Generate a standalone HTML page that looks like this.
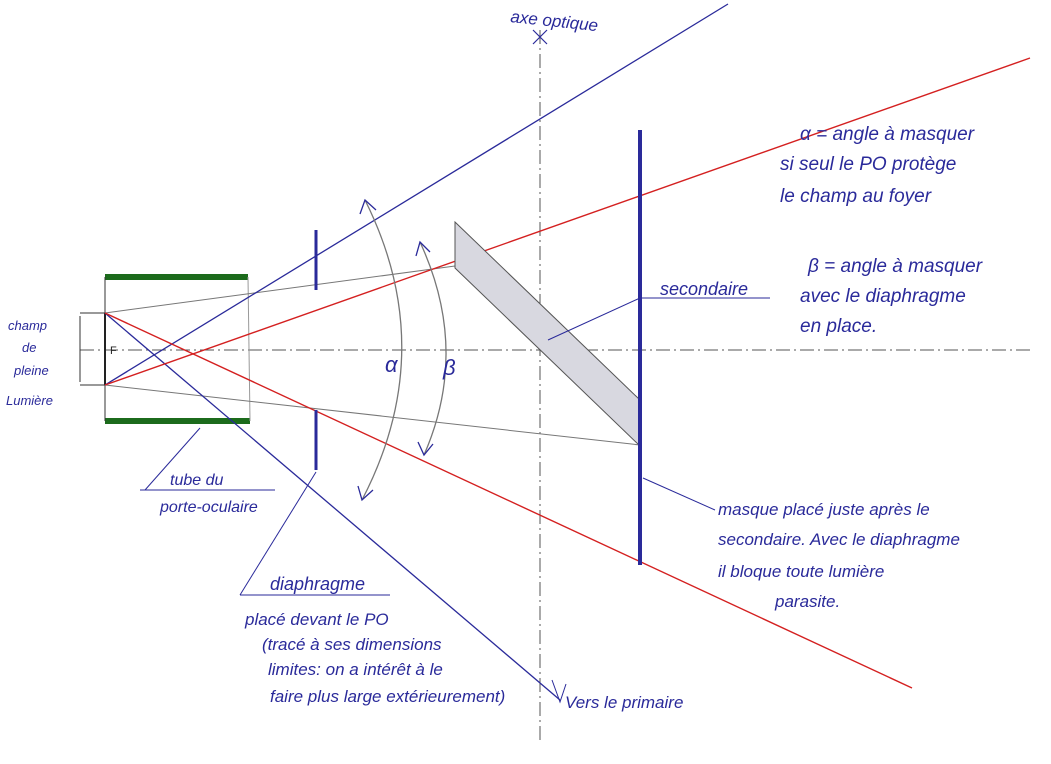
<!DOCTYPE html>
<html><head><meta charset="utf-8"><style>
html,body{margin:0;padding:0;background:#fff;}
svg{display:block}
text{font-family:"Liberation Sans",sans-serif;fill:#2a2a9a;font-style:italic}
</style></head><body>
<svg width="1051" height="764" viewBox="0 0 1051 764" xmlns="http://www.w3.org/2000/svg">
<rect width="1051" height="764" fill="#fff"/>
<line x1="540" y1="30" x2="540" y2="742" stroke="#555" stroke-width="1" stroke-dasharray="14,4,2,4"/>
<line x1="80" y1="350" x2="1030" y2="350" stroke="#555" stroke-width="1" stroke-dasharray="14,4,2,4"/>
<path d="M533 30 L547 44 M547 30 L533 44" stroke="#2a2a9a" stroke-width="1.2"/>
<line x1="105" y1="277" x2="248" y2="277" stroke="#1c6b1c" stroke-width="6"/>
<line x1="105" y1="421" x2="250" y2="421" stroke="#1c6b1c" stroke-width="6"/>
<line x1="105" y1="277" x2="105" y2="421" stroke="#333" stroke-width="1"/>
<line x1="248" y1="277" x2="250" y2="421" stroke="#999" stroke-width="1"/>
<line x1="105" y1="313" x2="105" y2="385" stroke="#222" stroke-width="2"/>
<text x="110" y="354" font-size="11" style="font-style:normal;fill:#222">F</text>
<line x1="80" y1="313" x2="105" y2="313" stroke="#333"/>
<line x1="80" y1="385" x2="105" y2="385" stroke="#333"/>
<line x1="80" y1="316" x2="80" y2="382" stroke="#333"/>
<line x1="105" y1="313" x2="455" y2="266" stroke="#777" stroke-width="1"/>
<line x1="105" y1="385" x2="640" y2="445" stroke="#777" stroke-width="1"/>
<line x1="105" y1="385" x2="728" y2="4" stroke="#2a2a9a" stroke-width="1.3"/>
<line x1="105" y1="313" x2="560" y2="700" stroke="#2a2a9a" stroke-width="1.3"/>
<path d="M552 680 L560 702 L566 684" fill="none" stroke="#2a2a9a"/>
<line x1="105" y1="385" x2="1030" y2="58" stroke="#d42020" stroke-width="1.4"/>
<line x1="105" y1="313" x2="912" y2="688" stroke="#d42020" stroke-width="1.4"/>
<line x1="316" y1="230" x2="316" y2="290" stroke="#2a2a9a" stroke-width="3"/>
<line x1="316" y1="410" x2="316" y2="470" stroke="#2a2a9a" stroke-width="3"/>
<polygon points="455,222 640,400 640,446 455,268" fill="#d8d8e0" stroke="#555" stroke-width="1"/>
<line x1="640" y1="130" x2="640" y2="565" stroke="#2a2a9a" stroke-width="4"/>
<path d="M365 200 Q440 350 362 500" fill="none" stroke="#777" stroke-width="1.3"/>
<path d="M420 242 Q470 350 424 455" fill="none" stroke="#777" stroke-width="1.3"/>
<path d="M360 214 L365 200 L376 210 M358 486 L362 500 L373 490" fill="none" stroke="#2a2a9a" stroke-width="1.3"/>
<path d="M416 256 L420 242 L430 252 M418 442 L424 455 L433 444" fill="none" stroke="#2a2a9a" stroke-width="1.3"/>
<text x="385" y="372" font-size="22">α</text>
<text x="443" y="375" font-size="22">β</text>
<line x1="145" y1="490" x2="200" y2="428" stroke="#2a2a9a"/>
<line x1="140" y1="490" x2="275" y2="490" stroke="#2a2a9a"/>
<line x1="240" y1="595" x2="316" y2="472" stroke="#2a2a9a"/>
<line x1="240" y1="595" x2="390" y2="595" stroke="#2a2a9a"/>
<line x1="640" y1="298" x2="770" y2="298" stroke="#2a2a9a"/>
<line x1="640" y1="298" x2="548" y2="340" stroke="#2a2a9a"/>
<line x1="643" y1="478" x2="715" y2="510" stroke="#2a2a9a"/>
<text x="510" y="22" font-size="17" transform="rotate(6 510 22)">axe optique</text>
<text x="800" y="140" font-size="19">α = angle à masquer</text>
<text x="780" y="170" font-size="19">si seul le PO protège</text>
<text x="780" y="202" font-size="19">le champ au foyer</text>
<text x="808" y="272" font-size="19">β = angle à masquer</text>
<text x="800" y="302" font-size="19">avec le diaphragme</text>
<text x="800" y="332" font-size="19">en place.</text>
<text x="660" y="295" font-size="18">secondaire</text>
<text x="8" y="330" font-size="13">champ</text>
<text x="22" y="352" font-size="13">de</text>
<text x="14" y="375" font-size="13">pleine</text>
<text x="6" y="405" font-size="13">Lumière</text>
<text x="170" y="485" font-size="16">tube du</text>
<text x="160" y="512" font-size="16">porte-oculaire</text>
<text x="270" y="590" font-size="18">diaphragme</text>
<text x="245" y="625" font-size="17">placé devant le PO</text>
<text x="262" y="650" font-size="17">(tracé à ses dimensions</text>
<text x="268" y="675" font-size="17">limites: on a intérêt à le</text>
<text x="270" y="702" font-size="17">faire plus large extérieurement)</text>
<text x="565" y="708" font-size="17">Vers le primaire</text>
<text x="718" y="515" font-size="17">masque placé juste après le</text>
<text x="718" y="545" font-size="17">secondaire. Avec le diaphragme</text>
<text x="718" y="577" font-size="17">il bloque toute lumière</text>
<text x="775" y="607" font-size="17">parasite.</text>
</svg>
</body></html>
